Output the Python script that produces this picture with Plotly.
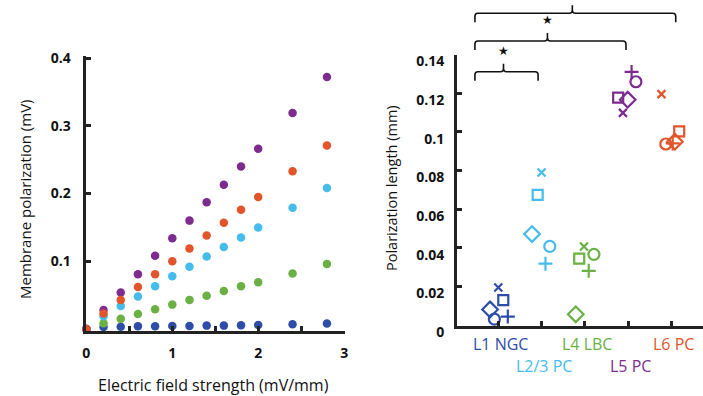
import plotly.graph_objects as go

# ---------------- data: left panel ----------------
field = [0, 0.2, 0.4, 0.6, 0.8, 1.0, 1.2, 1.4, 1.6, 1.8, 2.0, 2.4, 2.8]
pol_L1 = [0, 0.003, 0.0035, 0.004, 0.004, 0.0045, 0.0045, 0.005, 0.005, 0.0055, 0.006, 0.007, 0.008]
pol_L4 = [0, 0.0085, 0.015, 0.022, 0.029, 0.036, 0.043, 0.049, 0.056, 0.063, 0.069, 0.082, 0.096]
pol_L23 = [0, 0.019, 0.034, 0.048, 0.063, 0.078, 0.092, 0.107, 0.121, 0.135, 0.150, 0.179, 0.208]
pol_L5 = [0, 0.028, 0.054, 0.081, 0.108, 0.134, 0.160, 0.187, 0.213, 0.240, 0.266, 0.319, 0.372]
pol_L6 = [0, 0.023, 0.043, 0.062, 0.081, 0.100, 0.119, 0.138, 0.157, 0.176, 0.195, 0.233, 0.271]

# ---------------- data: right panel ----------------
cell_types = ["L1 NGC", "L2/3 PC", "L4 LBC", "L5 PC", "L6 PC"]
len_x = [0.0195, 0.0790, 0.0407, 0.1098, 0.1195]
len_square = [0.0129, 0.0674, 0.0344, 0.1177, 0.1002]
len_diamond = [0.0081, 0.0471, 0.0056, 0.1166, 0.0949]
len_circle = [0.0031, 0.0407, 0.0366, 0.1259, 0.0937]
len_plus = [0.0044, 0.0318, 0.0281, 0.1310, 0.0940]
# horizontal jitter of each cell (category units)
jit_x = [0.0, 0.0, -0.02, -0.12, -0.23]
jit_square = [0.115, -0.09, -0.13, -0.23, 0.18]
jit_diamond = [-0.19, -0.22, -0.21, -0.01, 0.08]
jit_circle = [-0.09, 0.19, 0.21, 0.18, -0.13]
jit_plus = [0.22, 0.09, 0.09, 0.08, 0.03]

left_xticks = [0, 0.5, 1, 1.5, 2, 2.5, 3]
left_xlabels = ["0", "", "1", "", "2", "", "3"]
left_yticks = [0.1, 0.2, 0.3, 0.4]
left_ylabels = ["0.1", "0.2", "0.3", "0.4"]
right_yticks = [0, 0.02, 0.04, 0.06, 0.08, 0.1, 0.12, 0.14]
right_ylabels = ["0", "0.02", "0.04", "0.06", "0.08", "0.1", "0.12", "0.14"]

significance = [("L1 NGC", "L2/3 PC", "★"), ("L1 NGC", "L5 PC", "★"), ("L1 NGC", "L6 PC", "")]

C_BLUE, C_CYAN, C_GREEN, C_PURPLE, C_ORANGE = "#2E4DA7", "#45BCEC", "#6AB043", "#7D2B8E", "#E2542A"
cell_colors = [C_BLUE, C_CYAN, C_GREEN, C_PURPLE, C_ORANGE]

W, H = 703, 396
FONT = "Open Sans"
AX = "#222222"

fig = go.Figure()

# left panel scatter
for vals, col in [(pol_L1, C_BLUE), (pol_L4, C_GREEN), (pol_L23, C_CYAN), (pol_L5, C_PURPLE), (pol_L6, C_ORANGE)]:
    fig.add_trace(go.Scatter(x=field, y=vals, mode="markers", xaxis="x", yaxis="y",
                             marker=dict(size=8.5, color=col), cliponaxis=False, showlegend=False))

# right panel scatter
cat_idx = list(range(1, len(cell_types) + 1))
for vals, jit, sym, size in [(len_x, jit_x, "x-thin-open", 8),
                             (len_square, jit_square, "square-open", 10),
                             (len_diamond, jit_diamond, "diamond-open", 12),
                             (len_circle, jit_circle, "circle-open", 11),
                             (len_plus, jit_plus, "cross-thin-open", 10)]:
    fig.add_trace(go.Scatter(x=[c + j for c, j in zip(cat_idx, jit)], y=vals, mode="markers",
                             xaxis="x2", yaxis="y2", cliponaxis=False, showlegend=False,
                             marker=dict(symbol=sym, size=size, color=cell_colors,
                                         line=dict(width=2.2, color=cell_colors))))

# geometry (pixels -> paper)
L_left, L_right, L_top, L_bot = 85.5, 345.0, 56.0, 330.5
R_left, R_right, R_top, R_bot = 457.0, 703.0, 54.5, 325.5
x2_range = [0.046, 5.73]

def px(v):
    return v / W

def py(v):
    return 1 - v / H

def bold(labels):
    return [f"<b>{t}</b>" if t else "" for t in labels]

axis_common = dict(showgrid=False, zeroline=False, showline=True, linecolor=AX, linewidth=3,
                   ticks="inside", tickwidth=2.5, ticklen=5, tickcolor=AX, automargin=False,
                   tickfont=dict(family=FONT, size=14, color="#111111"))

fig.update_layout(
    template="none",
    width=W, height=H, margin=dict(l=0, r=0, t=0, b=0, pad=0),
    paper_bgcolor="white", plot_bgcolor="white",
    xaxis=dict(domain=[px(L_left), px(L_right)], range=[-0.01, 3.01],
               tickvals=left_xticks, ticktext=bold(left_xlabels),
               ticklabelstandoff=8, anchor="y", **axis_common),
    yaxis=dict(domain=[py(L_bot), py(L_top)], range=[-0.0022, 0.403],
               tickvals=left_yticks, ticktext=bold(left_ylabels),
               ticklabelstandoff=9, anchor="x", **axis_common),
    xaxis2=dict(domain=[px(R_left), px(R_right)], range=x2_range,
                tickvals=cat_idx, ticktext=[""] * len(cat_idx), anchor="y2", **axis_common),
    yaxis2=dict(domain=[py(R_bot), py(R_top)], range=[-0.0002, 0.140],
                tickvals=right_yticks, ticktext=bold(right_ylabels),
                ticklabelstandoff=7, ticklabelshift=7, anchor="x2", **axis_common),
)

annotations = []
ann_base = dict(showarrow=False, xanchor="center", yanchor="middle")
# axis titles
annotations.append(dict(text="Membrane polarization (mV)", x=px(25), y=py(199), xref="paper", yref="paper",
                        textangle=-90, font=dict(family=FONT, size=15, color="#111"), **ann_base))
annotations.append(dict(text="Electric field strength (mV/mm)", x=px(213), y=py(385), xref="paper", yref="paper",
                        font=dict(family=FONT, size=16, color="#111"), **ann_base))
annotations.append(dict(text="Polarization length (mm)", x=px(392), y=py(188), xref="paper", yref="paper",
                        textangle=-90, font=dict(family=FONT, size=14.5, color="#111"), **ann_base))

# category labels (two staggered rows)
for i, (name, col) in enumerate(zip(cell_types, cell_colors)):
    row_y = 344 if i % 2 == 0 else 366
    annotations.append(dict(text=name, x=cat_idx[i] + 0.05, y=py(row_y), xref="x2", yref="paper",
                            font=dict(family=FONT, size=16, color=col), **ann_base))

# significance brackets
def x2_to_paper(v):
    d0, d1 = px(R_left), px(R_right)
    return d0 + (v - x2_range[0]) / (x2_range[1] - x2_range[0]) * (d1 - d0)

levels = [71.7, 41.0, 13.3]
right_offsets = [-0.08, -0.05, 0.1]
shapes = []
for (a, b, mark), lvl, roff in zip(significance, levels, right_offsets):
    xl = x2_to_paper(cell_types.index(a) + 1 - 0.54)
    xr = x2_to_paper(cell_types.index(b) + 1 + roff)
    xc = (xl + xr) / 2 - px(3)
    r = 3.0
    yb, ye, yt = py(lvl), py(lvl + 9), py(lvl - 8)
    path = (f"M {xl},{ye} L {xl},{py(lvl + r)} Q {xl},{yb} {xl + px(r)},{yb} "
            f"L {xc - px(r)},{yb} Q {xc},{yb} {xc},{py(lvl - r)} L {xc},{yt} "
            f"M {xc},{py(lvl - r)} Q {xc},{yb} {xc + px(r)},{yb} "
            f"L {xr - px(r)},{yb} Q {xr},{yb} {xr},{py(lvl + r)} L {xr},{ye}")
    shapes.append(dict(type="path", path=path, xref="paper", yref="paper",
                       line=dict(color="#111", width=1.6)))
    if mark:
        annotations.append(dict(text=mark, x=xc, y=py(lvl - 21), xref="paper", yref="paper",
                                font=dict(family="DejaVu Sans", size=12, color="#111"), **ann_base))

fig.update_layout(annotations=annotations, shapes=shapes)
fig.write_html("out.html", config={"displayModeBar": False},
               post_script="document.body.style.margin='0px';document.body.style.overflow='hidden';")
